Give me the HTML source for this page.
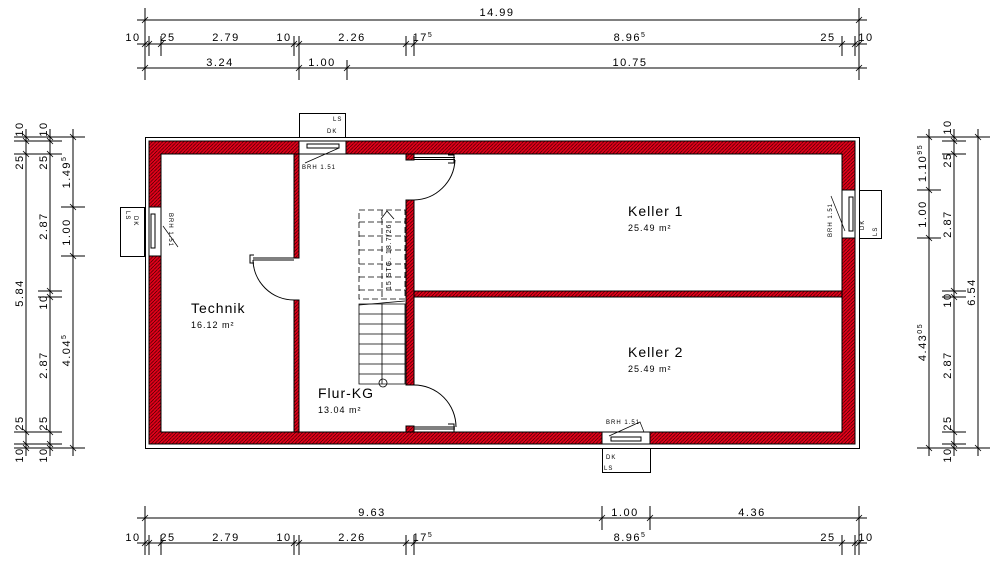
<!DOCTYPE html>
<html><head><meta charset="utf-8"><style>
html,body{margin:0;padding:0;background:#fff;}
svg{display:block;font-family:"Liberation Sans",sans-serif;}
</style></head><body>
<svg width="1000" height="571" viewBox="0 0 1000 571" xmlns="http://www.w3.org/2000/svg">
<defs>
<pattern id="h" width="3.5" height="3.5" patternUnits="userSpaceOnUse">
<rect width="3.5" height="3.5" fill="#e0001a"/>
<path d="M-1,4.5 L4.5,-1" stroke="#400" stroke-width="0.7"/>
</pattern>
</defs>
<g stroke="#000" stroke-width="1" fill="none">
<rect x="145.5" y="137.5" width="714" height="311"/>
</g>
<path fill="url(#h)" stroke="#000" stroke-width="1" fill-rule="evenodd"
 d="M149,141 H855 V444 H149 Z M161,154 V432 H842 V154 Z"/>
<g fill="url(#h)" stroke="#000" stroke-width="1">
<rect x="294" y="154" width="5" height="104"/>
<rect x="294" y="300" width="5" height="132"/>
<rect x="406" y="200" width="8" height="185"/>
<rect x="406" y="154" width="8" height="6"/>
<rect x="406" y="426" width="8" height="6"/>
<rect x="414" y="291" width="428" height="6"/>
</g>
<g fill="#fff" stroke="#000" stroke-width="1">
<rect x="299" y="141" width="47" height="13"/>
<rect x="149" y="207" width="12" height="49"/>
<rect x="842" y="190" width="13" height="48"/>
<rect x="602" y="432" width="48" height="12"/>
<rect x="299.5" y="113.5" width="46" height="24"/>
<rect x="120.5" y="207.5" width="24" height="49"/>
<rect x="859.5" y="190.5" width="22" height="48"/>
<rect x="602.5" y="448.5" width="48" height="24"/>
<rect x="307" y="144" width="32" height="4"/>
<rect x="151" y="214" width="4" height="34"/>
<rect x="849" y="197" width="4" height="34"/>
<rect x="611" y="437" width="30" height="4"/>
</g>
<g stroke="#000" stroke-width="0.7" fill="none">
<path d="M305,163 L339,148"/><path d="M163,226 L178,247"/><path d="M831,196 L845,231"/><path d="M609,436 L640,422 L644,432"/>
</g>
<g font-size="6" fill="#000" letter-spacing="1">
<text x="333" y="121">LS</text><text x="327" y="133">DK</text>
<text x="302" y="169">BRH 1.51</text>
<text transform="translate(126,211) rotate(90)">LS</text>
<text transform="translate(134,216) rotate(90)">DK</text>
<text transform="translate(169,213) rotate(90)">BRH 1.51</text>
<text transform="translate(864,230) rotate(-90)">DK</text>
<text transform="translate(877,236) rotate(-90)">LS</text>
<text transform="translate(832,237) rotate(-90)">BRH 1.51</text>
<text x="606" y="459">DK</text><text x="604" y="470">LS</text>
<text x="606" y="424">BRH 1.51</text>
</g>
<g stroke="#000" fill="none" stroke-width="1">
<path d="M414,157.5 H455 M414,159.5 H455"/>
<path d="M455,160 A42,42 0 0 1 414,200"/>
<path d="M414,427 H455 M414,429 H455"/>
<path d="M414,385 A42,42 0 0 1 456,427"/>
<path d="M253,258 H294 M253,260 H294"/>
<path d="M253,260 A41,41 0 0 0 294,300"/>
<path d="M448,155 h6 v8 h-6 M448,424 h6 v8 h-6 M254,255 h-4 v8 h4"/>
</g>
<g stroke="#000" stroke-width="0.8" fill="none">
<path d="M359,210 H405 V299 H359 Z M382,210 V299 M359,222 H405 M359,236 H405 M359,250 H405 M359,264 H405 M359,277 H405 M359,290 H405" stroke-dasharray="6,3"/>
<path d="M359,304 H405 V384 H359 Z M382,304 V384 M359,314 H405 M359,324 H405 M359,334 H405 M359,344 H405 M359,354 H405 M359,364 H405 M359,374 H405"/>
<path d="M359,305 L405,301"/>
<circle cx="383" cy="383" r="4"/>
<path d="M381,219 L387,211 L394,219"/>
</g>
<text transform="translate(391,290) rotate(-90)" font-size="7" letter-spacing="1">15 STG. 18.7/26</text>
<g fill="#000" letter-spacing="1">
<text x="191" y="313" font-size="14">Technik</text><text x="191" y="328" font-size="9">16.12 m²</text>
<text x="628" y="216" font-size="14">Keller 1</text><text x="628" y="231" font-size="9">25.49 m²</text>
<text x="628" y="357" font-size="14">Keller 2</text><text x="628" y="372" font-size="9">25.49 m²</text>
<text x="318" y="398" font-size="14">Flur-KG</text><text x="318" y="413" font-size="9">13.04 m²</text>
</g>
<g stroke="#000" stroke-width="1" fill="none">
<path d="M137,20 H867 M137,44 H867 M137,68 H867 M137,518 H867 M137,543 H867"/>
<path d="M145,8 V80 M859,8 V80 M149,36 V56 M161,36 V56 M294,36 V56 M299,36 V80 M406,36 V56 M414,36 V56 M842,36 V56 M855,36 V56 M347,60 V80"/>
<path d="M145,506 V555 M859,506 V555 M602,506 V530 M650,506 V530 M149,535 V555 M161,535 V555 M294,535 V555 M299,535 V555 M406,535 V555 M414,535 V555 M842,535 V555 M855,535 V555"/>
<path d="M26,129 V456 M50,129 V456 M73,129 V456 M929,129 V456 M954,129 V456 M978,129 V456"/>
<path d="M14,137 H85 M14,448 H85 M14,141 H62 M14,154 H62 M14,432 H62 M14,444 H62 M38,291 H62 M38,297 H62 M61,207 H85 M61,256 H85"/>
<path d="M917,137 H990 M917,448 H990 M942,141 H966 M942,154 H966 M942,432 H966 M942,444 H966 M942,291 H966 M942,297 H966 M917,190 H941 M917,238 H941"/>
</g>
<g stroke="#000" stroke-width="0.8">
<path d="M142,23 l6,-6 M856,23 l6,-6 M142,47 l6,-6 M146,47 l6,-6 M158,47 l6,-6 M291,47 l6,-6 M296,47 l6,-6 M403,47 l6,-6 M411,47 l6,-6 M839,47 l6,-6 M852,47 l6,-6 M856,47 l6,-6 M142,71 l6,-6 M296,71 l6,-6 M344,71 l6,-6 M856,71 l6,-6"/>
<path d="M142,521 l6,-6 M599,521 l6,-6 M647,521 l6,-6 M856,521 l6,-6 M142,546 l6,-6 M146,546 l6,-6 M158,546 l6,-6 M291,546 l6,-6 M296,546 l6,-6 M403,546 l6,-6 M411,546 l6,-6 M839,546 l6,-6 M852,546 l6,-6 M856,546 l6,-6"/>
<path d="M23,134 l6,6 M23,138 l6,6 M23,151 l6,6 M23,429 l6,6 M23,441 l6,6 M23,445 l6,6 M47,134 l6,6 M47,138 l6,6 M47,151 l6,6 M47,288 l6,6 M47,294 l6,6 M47,429 l6,6 M47,441 l6,6 M47,445 l6,6 M70,134 l6,6 M70,204 l6,6 M70,253 l6,6 M70,445 l6,6"/>
<path d="M926,134 l6,6 M926,187 l6,6 M926,235 l6,6 M926,445 l6,6 M951,134 l6,6 M951,138 l6,6 M951,151 l6,6 M951,288 l6,6 M951,294 l6,6 M951,429 l6,6 M951,441 l6,6 M951,445 l6,6 M975,134 l6,6 M975,445 l6,6"/>
</g>
<g font-size="11" fill="#000" text-anchor="middle" letter-spacing="1.5">
<text x="497" y="16">14.99</text>
<text x="133" y="41">10</text><text x="168" y="41">25</text><text x="226" y="41">2.79</text><text x="284" y="41">10</text><text x="352" y="41">2.26</text><text x="423" y="41">17<tspan font-size="7" dy="-4">5</tspan></text><text x="630" y="41">8.96<tspan font-size="7" dy="-4">5</tspan></text><text x="828" y="41">25</text><text x="866" y="41">10</text>
<text x="220" y="66">3.24</text><text x="322" y="66">1.00</text><text x="630" y="66">10.75</text>
<text x="372" y="516">9.63</text><text x="625" y="516">1.00</text><text x="752" y="516">4.36</text>
<text x="133" y="541">10</text><text x="168" y="541">25</text><text x="226" y="541">2.79</text><text x="284" y="541">10</text><text x="352" y="541">2.26</text><text x="423" y="541">17<tspan font-size="7" dy="-4">5</tspan></text><text x="630" y="541">8.96<tspan font-size="7" dy="-4">5</tspan></text><text x="828" y="541">25</text><text x="866" y="541">10</text>
</g>
<g font-size="11" fill="#000" text-anchor="middle" letter-spacing="1.5">
<text transform="translate(23,129) rotate(-90)">10</text>
<text transform="translate(23,162) rotate(-90)">25</text>
<text transform="translate(23,293) rotate(-90)">5.84</text>
<text transform="translate(23,423) rotate(-90)">25</text>
<text transform="translate(23,455) rotate(-90)">10</text>
<text transform="translate(47,129) rotate(-90)">10</text>
<text transform="translate(47,162) rotate(-90)">25</text>
<text transform="translate(47,226) rotate(-90)">2.87</text>
<text transform="translate(47,302) rotate(-90)">10</text>
<text transform="translate(47,365) rotate(-90)">2.87</text>
<text transform="translate(47,423) rotate(-90)">25</text>
<text transform="translate(47,455) rotate(-90)">10</text>
<text transform="translate(70,172) rotate(-90)">1.49<tspan font-size="7" dy="-4">5</tspan></text>
<text transform="translate(70,232) rotate(-90)">1.00</text>
<text transform="translate(70,350) rotate(-90)">4.04<tspan font-size="7" dy="-4">5</tspan></text>
<text transform="translate(926,163) rotate(-90)">1.10<tspan font-size="7" dy="-4">95</tspan></text>
<text transform="translate(926,214) rotate(-90)">1.00</text>
<text transform="translate(926,342) rotate(-90)">4.43<tspan font-size="7" dy="-4">05</tspan></text>
<text transform="translate(951,127) rotate(-90)">10</text>
<text transform="translate(951,160) rotate(-90)">25</text>
<text transform="translate(951,224) rotate(-90)">2.87</text>
<text transform="translate(951,300) rotate(-90)">10</text>
<text transform="translate(951,365) rotate(-90)">2.87</text>
<text transform="translate(951,423) rotate(-90)">25</text>
<text transform="translate(951,455) rotate(-90)">10</text>
<text transform="translate(975,292) rotate(-90)">6.54</text>
</g>
</svg>
</body></html>
